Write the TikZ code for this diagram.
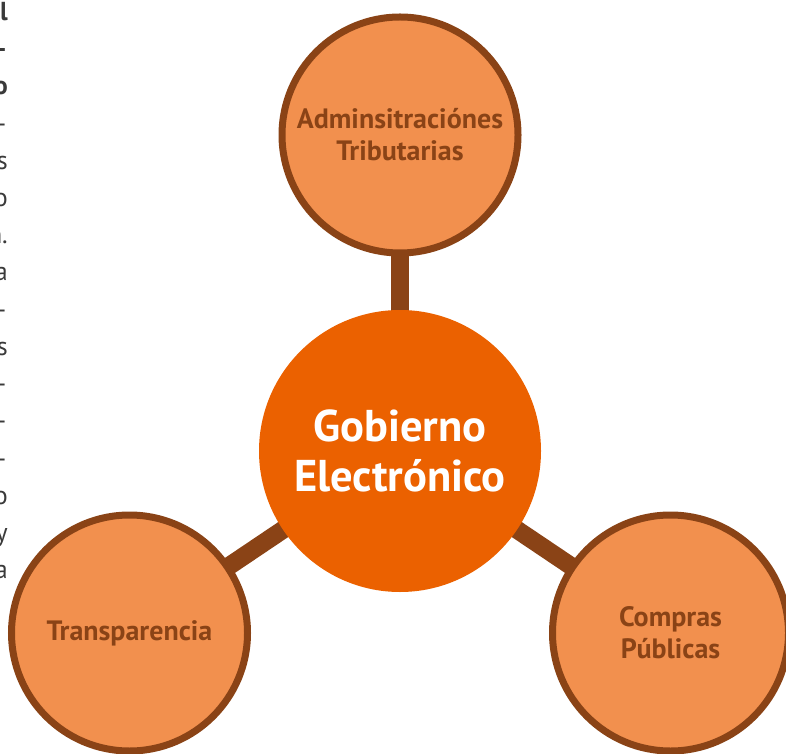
\documentclass[tikz,border=0pt]{standalone}
\usepackage{fontspec}
\setmainfont{PT Sans}
\usepackage{tikz}
\usetikzlibrary{backgrounds}
\definecolor{ringBrown}{HTML}{8A4316}
\definecolor{softOrange}{HTML}{F2904E}
\definecolor{deepOrange}{HTML}{EB6100}
\definecolor{pageGray}{HTML}{3A3A3A}

\tikzset{
	hub/.style={circle, fill=deepOrange, minimum size=282pt, inner sep=0pt, align=center, text=white, font=\bfseries\fontsize{44.5}{50}\selectfont},
	spoke/.style={circle, draw=ringBrown, line width=7pt, fill=softOrange, minimum size=236pt, inner sep=0pt, align=center, text=ringBrown, font=\bfseries\fontsize{28}{32}\selectfont},
	link/.style={draw=ringBrown, line width=18pt},
	marginText/.style={anchor=base east, inner sep=0pt, text=pageGray, font=\fontsize{26}{30}\selectfont}
}

\begin{document}
\begin{tikzpicture}[x=1pt,y=1pt]
	\useasboundingbox (0,0) rectangle (786,753);
	\pgfmathsetmacro{\lineGap}{37.2}
	
	% Clipped column of the page text
	\foreach \txt [count=\k from 0] in {\textbf{l},\textbf{–},\textbf{o},–,s,o,n.,a,–,s,–,–,–,o,y,a} {
		\node[marginText] (edge\k) at (8,732.4-\lineGap*\k) {\txt};
	}
	
	% Hub and its three themes
	\node[hub] (gov) at (400,302) {Gobierno\\Electrónico};
	\node[spoke] (tax) at (400,618) {Adminsitraciónes\\Tributarias};
	\node[spoke] (open) at (129.5,120) {Transparencia};
	\node[spoke] (buy) at (670.5,120) {Compras\\Públicas};
	
	\begin{scope}[on background layer]
		\foreach \leaf in {tax,open,buy} {
			\draw[link] (gov.center) -- (\leaf.center);
		}
	\end{scope}
\end{tikzpicture}
\end{document}
